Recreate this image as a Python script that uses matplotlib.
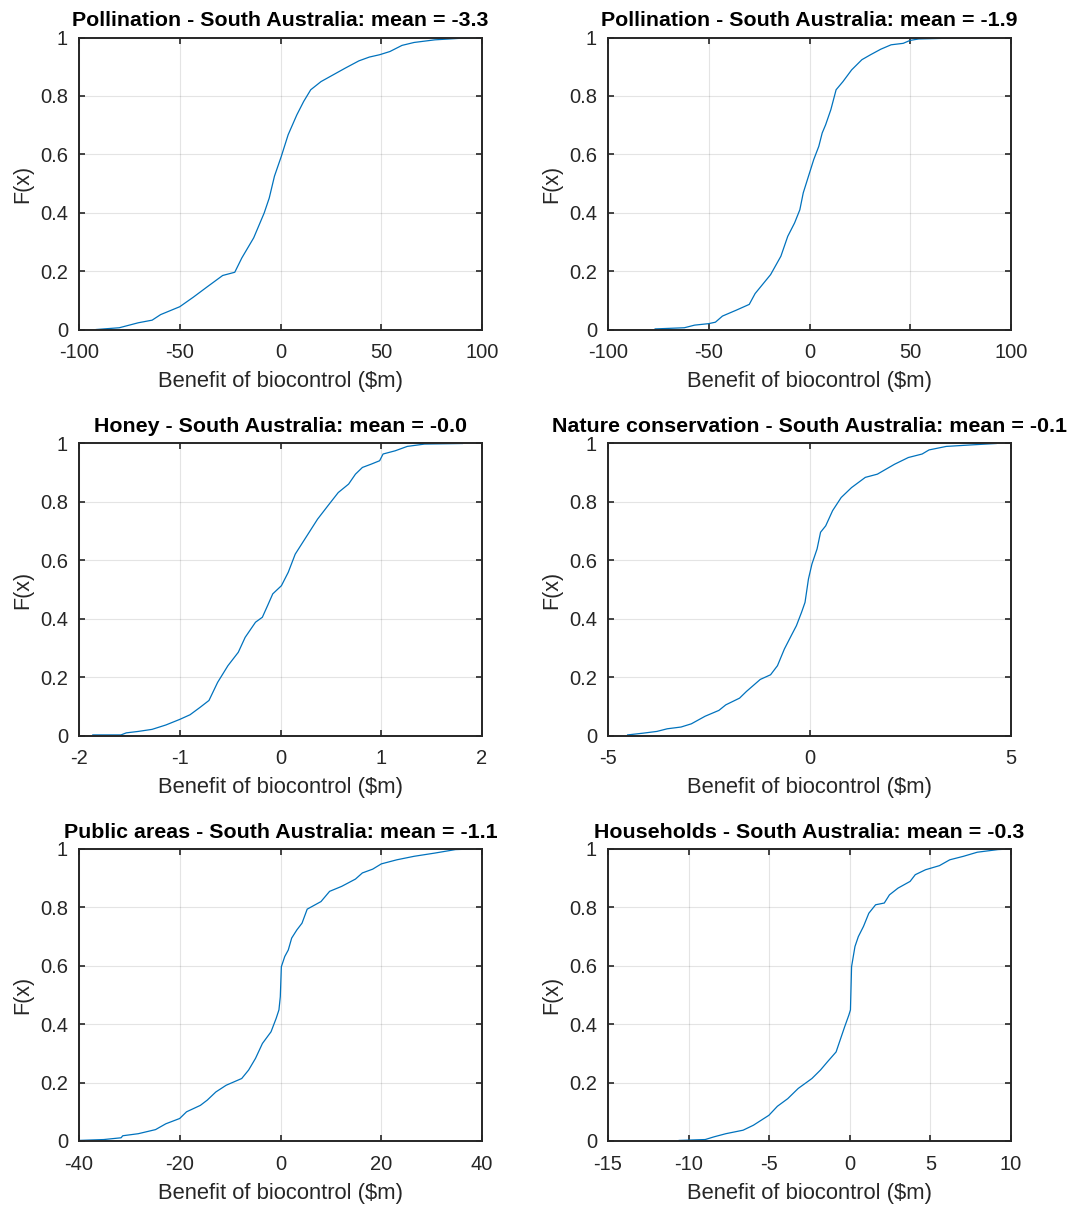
import matplotlib
matplotlib.use("Agg")
import matplotlib.pyplot as plt
from matplotlib.ticker import FuncFormatter

plt.rcParams['font.family'] = ['Liberation Sans', 'DejaVu Sans']

# Empirical CDFs of the simulated benefit of biocontrol ($m), one per sector
titles = [
    "Pollination - South Australia: mean = -3.3",
    "Pollination - South Australia: mean = -1.9",
    "Honey - South Australia: mean = -0.0",
    "Nature conservation - South Australia: mean = -0.1",
    "Public areas - South Australia: mean = -1.1",
    "Households - South Australia: mean = -0.3",
]

poll1_x = [-91.4, -80.0, -70.6, -63.7, -59.5, -50.0, -43.2, -36.4, -28.7, -22.7, -19.2, -13.3,
           -8.1, -5.6, -3.0, 0.4, 3.8, 8.1, 11.5, 15.0, 20.1, 26.1, 32.1, 38.9, 44.1, 49.2,
           54.3, 60.3, 66.3, 76.6, 88.5, 100.0]
poll1_f = [0.0, 0.006, 0.023, 0.032, 0.051, 0.078, 0.111, 0.146, 0.185, 0.196, 0.245, 0.314,
           0.399, 0.450, 0.525, 0.593, 0.667, 0.735, 0.781, 0.821, 0.849, 0.872, 0.895, 0.920,
           0.933, 0.941, 0.952, 0.973, 0.983, 0.992, 0.997, 1.0]

poll2_x = [-76.6, -62.1, -57.0, -50.1, -46.7, -43.2, -36.4, -29.9, -27.0, -19.3, -14.2, -10.8,
           -7.4, -4.8, -3.1, -0.5, 2.1, 4.6, 6.3, 8.0, 10.6, 13.2, 16.6, 20.9, 26.0, 30.3,
           35.4, 40.5, 46.5, 49.9, 54.2, 71.3, 85.0]
poll2_f = [0.002, 0.006, 0.015, 0.020, 0.025, 0.046, 0.066, 0.086, 0.123, 0.188, 0.251, 0.319,
           0.365, 0.410, 0.468, 0.525, 0.582, 0.627, 0.673, 0.701, 0.753, 0.821, 0.849, 0.889,
           0.924, 0.941, 0.960, 0.975, 0.980, 0.990, 0.995, 0.998, 1.0]

honey_x = [-1.863, -1.583, -1.531, -1.411, -1.275, -1.138, -1.001, -0.898, -0.796, -0.710,
           -0.624, -0.522, -0.419, -0.351, -0.248, -0.180, -0.128, -0.077, 0.009, 0.077,
           0.146, 0.231, 0.368, 0.471, 0.573, 0.676, 0.744, 0.813, 0.898, 0.984, 1.018,
           1.138, 1.258, 1.429, 1.805]
honey_f = [0.002, 0.002, 0.009, 0.014, 0.021, 0.036, 0.055, 0.071, 0.097, 0.120, 0.182, 0.239,
           0.285, 0.336, 0.388, 0.405, 0.445, 0.485, 0.513, 0.559, 0.621, 0.667, 0.741, 0.787,
           0.832, 0.861, 0.895, 0.918, 0.929, 0.941, 0.964, 0.975, 0.990, 0.998, 1.0]

nature_x = [-4.513, -4.128, -3.786, -3.530, -3.188, -2.932, -2.590, -2.248, -2.077, -1.735,
            -1.564, -1.222, -0.966, -0.795, -0.624, -0.453, -0.325, -0.197, -0.111, -0.026,
            0.060, 0.188, 0.274, 0.402, 0.573, 0.786, 1.043, 1.385, 1.684, 2.111, 2.453,
            2.795, 2.966, 3.393, 3.991, 4.632]
nature_f = [0.002, 0.008, 0.014, 0.023, 0.029, 0.040, 0.066, 0.086, 0.105, 0.128, 0.151, 0.192,
            0.208, 0.239, 0.296, 0.342, 0.376, 0.422, 0.456, 0.536, 0.587, 0.639, 0.696, 0.718,
            0.770, 0.815, 0.849, 0.884, 0.895, 0.929, 0.952, 0.964, 0.978, 0.990, 0.995, 1.0]

public_x = [-40.0, -35.07, -31.65, -31.31, -28.23, -24.81, -22.76, -20.02, -18.65, -15.91,
            -14.54, -12.83, -10.78, -7.70, -6.33, -4.96, -3.59, -1.88, -0.86, -0.31, -0.04,
            0.17, 0.85, 1.54, 2.22, 3.25, 4.27, 5.30, 8.04, 9.75, 12.14, 14.88, 16.25, 18.30,
            20.01, 23.09, 26.52, 30.62, 34.73, 38.15]
public_f = [0.002, 0.005, 0.011, 0.018, 0.025, 0.039, 0.059, 0.077, 0.100, 0.122, 0.140, 0.168,
            0.191, 0.214, 0.243, 0.283, 0.334, 0.374, 0.420, 0.449, 0.494, 0.597, 0.632, 0.654,
            0.695, 0.723, 0.746, 0.794, 0.820, 0.855, 0.872, 0.897, 0.918, 0.931, 0.949, 0.963,
            0.975, 0.986, 0.998, 1.0]

house_x = [-10.58, -8.97, -8.44, -7.69, -6.62, -5.98, -5.02, -4.49, -3.85, -3.20, -2.35, -1.82,
           -1.39, -0.85, -0.53, -0.32, -0.06, 0.04, 0.11, 0.32, 0.53, 0.85, 1.18, 1.60, 2.14,
           2.46, 2.99, 3.74, 4.06, 4.70, 5.56, 6.20, 7.05, 7.91, 9.19, 9.94]
house_f = [0.002, 0.005, 0.014, 0.025, 0.037, 0.054, 0.088, 0.119, 0.145, 0.180, 0.214, 0.243,
           0.271, 0.305, 0.357, 0.391, 0.431, 0.449, 0.597, 0.666, 0.700, 0.735, 0.780, 0.809,
           0.815, 0.843, 0.866, 0.889, 0.912, 0.929, 0.943, 0.963, 0.975, 0.989, 0.998, 1.0]

series = [(poll1_x, poll1_f), (poll2_x, poll2_f), (honey_x, honey_f),
          (nature_x, nature_f), (public_x, public_f), (house_x, house_f)]

x_limits = [(-100, 100), (-100, 100), (-2, 2), (-5, 5), (-40, 40), (-15, 10)]
x_ticks = [[-100, -50, 0, 50, 100], [-100, -50, 0, 50, 100], [-2, -1, 0, 1, 2],
           [-5, 0, 5], [-40, -20, 0, 20, 40], [-15, -10, -5, 0, 5, 10]]
y_ticks = [0, 0.2, 0.4, 0.6, 0.8, 1.0]

W, H = 1079, 1205
fig = plt.figure(figsize=(W / 100, H / 100), dpi=100)

col_left = [79, 608]
ax_w = 403
row_top = [37.5, 443.5, 849]
ax_h = 292

dark = '#262626'
line_blue = '#0072BD'
fmt = FuncFormatter(lambda v, p: f"{v:g}")

for i, ((xs, fs), title) in enumerate(zip(series, titles)):
    r, c = divmod(i, 2)
    rect = [col_left[c] / W, 1 - (row_top[r] + ax_h) / H, ax_w / W, ax_h / H]
    ax = fig.add_axes(rect)
    ax.plot(xs, fs, color=line_blue, lw=0.9)
    ax.set_xlim(*x_limits[i])
    ax.set_ylim(0, 1)
    ax.set_xticks(x_ticks[i])
    ax.set_yticks(y_ticks)
    ax.xaxis.set_major_formatter(fmt)
    ax.yaxis.set_major_formatter(fmt)
    ax.grid(True, color=dark, alpha=0.12, lw=0.8)
    ax.set_axisbelow(True)
    for s in ax.spines.values():
        s.set_color(dark)
        s.set_linewidth(1.4)
    ax.tick_params(direction='in', length=4, width=1.2, color=dark,
                   top=True, right=True, labelsize=14.5, labelcolor=dark)
    ax.tick_params(axis='x', pad=10)
    ax.tick_params(axis='y', pad=8)
    ax.set_xlabel(r"Benefit of biocontrol (\$m)", fontsize=15.8, color=dark, labelpad=6.5)
    ax.set_ylabel("F(x)", fontsize=15.5, color=dark, labelpad=5)
    ax.set_title(title, fontsize=15.4, fontweight='bold', color='black', pad=8)

fig.savefig("out.png", dpi=100, facecolor='white')
